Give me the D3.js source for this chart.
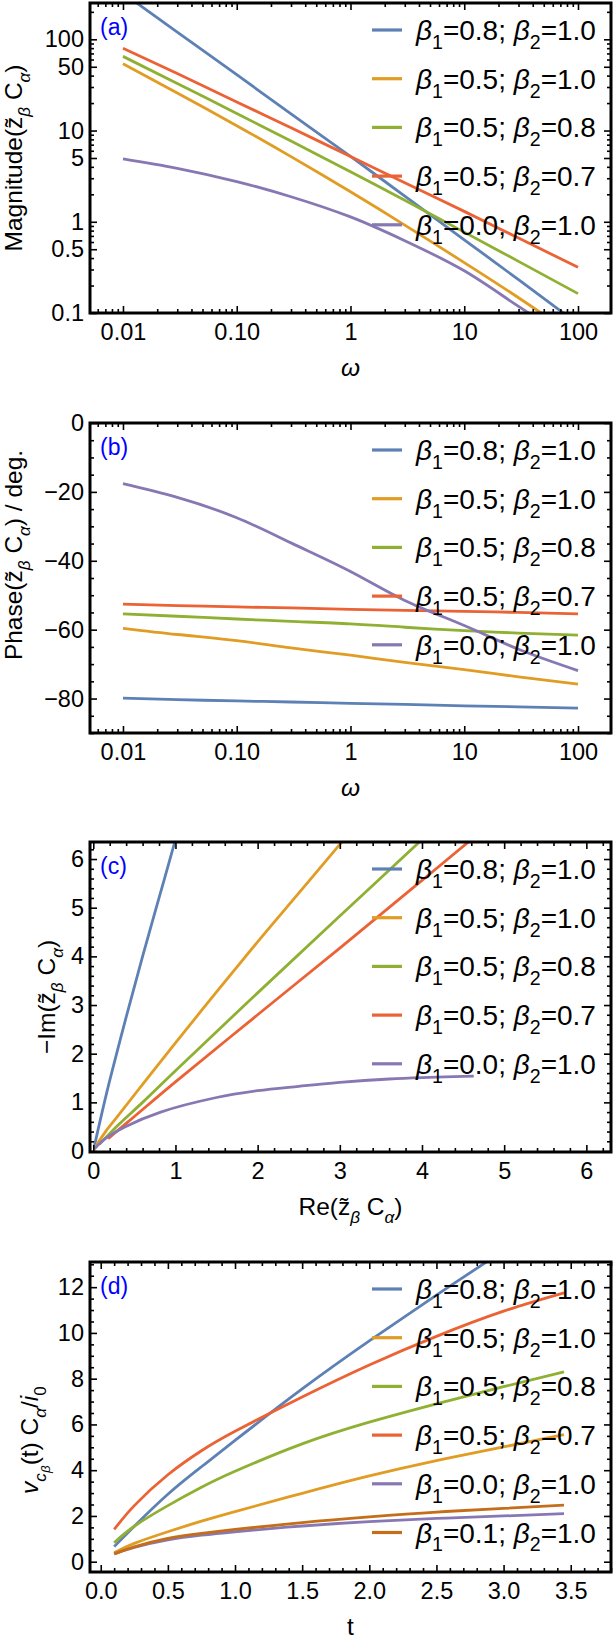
<!DOCTYPE html>
<html>
<head>
<meta charset="utf-8">
<script src="https://cdn.jsdelivr.net/npm/d3@7"></script>
<style>
body{margin:0;background:#fff;}
text{font-family:"Liberation Sans",Arial,sans-serif;fill:#000;}
.tick line{stroke:#000;stroke-width:1.6;}
.tick text{font-size:23.5px;}
</style>
</head>
<body>
<svg id="chart" width="615" height="1639"></svg>
<script>
// series labels and colours
var beta1 = ['0.8','0.5','0.5','0.5','0.0','0.1'];
var beta2 = ['1.0','1.0','0.8','0.7','1.0','1.0'];
var colors = ['#5e81b5','#e19c24','#8fb032','#eb6235','#8778b3','#c56e1a'];

// (a) magnitude, (b) phase  vs omega
var omega = [0.01, 0.03, 0.1, 0.3, 1, 3, 10, 30, 100];
var magA = [
  [321, 120, 41, 15.2, 5.2, 1.91, 0.635, 0.232, 0.076],
  [54, 25.8, 11.3, 5.18, 2.13, 0.92, 0.357, 0.147, 0.053],
  [65, 32.8, 15.4, 7.66, 3.53, 1.72, 0.77, 0.368, 0.163],
  [80, 42.1, 20.6, 10.7, 5.2, 2.68, 1.30, 0.663, 0.317],
  [4.9, 3.86, 2.76, 1.88, 1.13, 0.62, 0.29, 0.118, 0.046]
];
var phaseB = [
  [-79.9, -80.3, -80.7, -81.0, -81.4, -81.7, -82.1, -82.4, -82.8],
  [-59.6, -61.4, -63.2, -65.3, -67.4, -69.5, -71.6, -73.7, -75.8],
  [-55.4, -56.1, -56.9, -57.6, -58.3, -59.3, -60.3, -61.0, -61.6],
  [-52.6, -53.0, -53.4, -53.7, -54.1, -54.4, -54.7, -55.0, -55.4],
  [-17.6, -21.6, -27.5, -34.8, -43.1, -51.5, -58.8, -65.7, -71.9]
];

// (c) Nyquist: Re and -Im
var reC = [
  [0.01, 0.08, 0.2, 0.4, 0.6, 0.8, 1.0, 1.1],
  [0.01, 0.05, 0.15, 0.3, 0.6, 1.0, 1.5, 2.0, 2.5, 3.0, 3.2],
  [0.075, 0.3, 0.6, 1.0, 2.0, 3.0, 4.0, 4.3],
  [0.18, 0.5, 1.0, 2.0, 3.0, 4.0, 4.6, 4.8],
  [0.014, 0.05, 0.15, 0.39, 0.82, 1.5, 2.0, 2.5, 3.0, 3.6, 4.0, 4.63]
];
var imC = [
  [0.075, 0.6, 1.45, 2.75, 4.0, 5.2, 6.4, 7.0],
  [0.035, 0.15, 0.4, 0.72, 1.37, 2.22, 3.27, 4.3, 5.3, 6.3, 6.7],
  [0.139, 0.53, 1.0, 1.65, 3.25, 4.83, 6.4, 6.88],
  [0.255, 0.71, 1.42, 2.8, 4.17, 5.56, 6.4, 6.67],
  [0.044, 0.11, 0.26, 0.5, 0.8, 1.1, 1.24, 1.33, 1.41, 1.48, 1.51, 1.54]
];

// (d) time response
var tD = [0.1, 0.25, 0.5, 0.75, 1.0, 1.5, 2.0, 2.5, 3.0, 3.45];
var vD = [
  [0.66, 1.55, 2.95, 4.15, 5.3, 7.55, 9.65, 11.65, 13.6, 15.3],
  [0.39, 0.8, 1.31, 1.77, 2.19, 2.99, 3.75, 4.42, 5.02, 5.55],
  [0.83, 1.55, 2.45, 3.25, 3.95, 5.15, 6.1, 6.9, 7.65, 8.3],
  [1.41, 2.45, 3.8, 4.85, 5.7, 7.2, 8.6, 9.85, 10.95, 11.75],
  [0.34, 0.62, 0.95, 1.16, 1.31, 1.56, 1.75, 1.89, 2.0, 2.1],
  [0.34, 0.65, 1.02, 1.24, 1.41, 1.71, 1.96, 2.17, 2.33, 2.47]
];

var svg = d3.select('#chart');
var L = 90, R = 611, PH = 310;
var tops = [3, 423, 842, 1262];

function logMinor(lo, hi, skip){
  var out = [];
  for (var k = -4; k <= 3; k++){
    for (var m = 1; m <= 9; m++){
      var v = m * Math.pow(10, k);
      if (v >= lo && v <= hi && skip.indexOf(m) < 0) out.push(v);
    }
  }
  return out;
}
function stepTicks(lo, hi, step, major){
  var out = [];
  for (var v = Math.ceil(lo/step - 1e-9)*step; v <= hi + 1e-9; v += step){
    var r = Math.round(v*1000)/1000;
    var isMaj = major.some(function(M){ return Math.abs(M - r) < 1e-6; });
    if (!isMaj) out.push(r);
  }
  return out;
}

// rich text: parts with optional sub level and italics
function rich(sel, parts, size){
  var level = 0, shift = [0, 0.32, 0.5], scale = [1, 0.7, 0.55];
  parts.forEach(function(p){
    var lv = p.sub || 0;
    var dy = (shift[lv] - shift[level]) * size;
    sel.append('tspan')
      .attr('dy', dy)
      .style('font-size', (size*scale[lv]) + 'px')
      .style('font-style', p.it ? 'italic' : 'normal')
      .text(p.t);
    level = lv;
  });
}

function legendParts(i){
  return [{t:'β', it:1}, {t:'1', sub:1}, {t:'=' + beta1[i] + '; '},
          {t:'β', it:1}, {t:'2', sub:1}, {t:'=' + beta2[i]}];
}

function panel(cfg){
  var top = cfg.top, bottom = top + PH;
  var g = svg.append('g');
  var x = cfg.x.range([L, R]), y = cfg.y.range([bottom, top]);
  var id = 'clip' + cfg.tag;
  svg.append('clipPath').attr('id', id).append('rect')
    .attr('x', L).attr('y', top).attr('width', R - L).attr('height', PH);

  // curves
  var line = d3.line().curve(cfg.curve || d3.curveNatural)
    .x(function(d){ return x(d[0]); })
    .y(function(d){ return y(d[1]); });
  g.append('g').attr('clip-path', 'url(#' + id + ')')
    .selectAll('path').data(cfg.series).enter().append('path')
    .attr('d', line)
    .attr('fill', 'none')
    .attr('stroke', function(d, i){ return colors[i]; })
    .attr('stroke-width', 2.8);

  // axes: bottom/left labelled, top/right ticks only
  function ax(axisFn, scale, vals, size, fmt, tr){
    var a = axisFn(scale).tickValues(vals).tickSize(-size).tickPadding(10)
      .tickFormat(fmt || '');
    var s = g.append('g').attr('transform', tr).call(a);
    s.select('.domain').remove();
    return s;
  }
  ax(d3.axisBottom, x, cfg.xMaj, 7, cfg.xFmt, 'translate(0,' + bottom + ')');
  ax(d3.axisBottom, x, cfg.xMin, 4, null, 'translate(0,' + bottom + ')');
  ax(d3.axisTop, x, cfg.xMaj, 7, null, 'translate(0,' + top + ')');
  ax(d3.axisTop, x, cfg.xMin, 4, null, 'translate(0,' + top + ')');
  var yl = ax(d3.axisLeft, y, cfg.yMaj, 7, cfg.yFmt, 'translate(' + L + ',0)');
  yl.selectAll('text').attr('x', -6);
  ax(d3.axisLeft, y, cfg.yMin, 4, null, 'translate(' + L + ',0)');
  ax(d3.axisRight, y, cfg.yMaj, 7, null, 'translate(' + R + ',0)');
  ax(d3.axisRight, y, cfg.yMin, 4, null, 'translate(' + R + ',0)');

  // frame
  g.append('rect').attr('x', L).attr('y', top).attr('width', R - L).attr('height', PH)
    .attr('fill', 'none').attr('stroke', '#000').attr('stroke-width', 3);

  // tag
  g.append('text').attr('x', 100).attr('y', top + 32)
    .style('font-size', '23px').style('fill', '#0000ff').text('(' + cfg.tag + ')');

  // legend
  var lg = g.selectAll('.leg').data(cfg.series).enter().append('g')
    .attr('transform', function(d, i){ return 'translate(0,' + (top + 27 + i*48.7) + ')'; });
  lg.append('line').attr('x1', 372).attr('x2', 402)
    .attr('stroke', function(d, i){ return colors[i]; }).attr('stroke-width', 3.2);
  lg.each(function(d, i){
    var t = d3.select(this).append('text').attr('x', 416).attr('y', 10).style('font-size', '28px');
    rich(t, legendParts(i), 28);
  });

  // titles
  var xt = g.append('text').attr('x', (L + R)/2).attr('y', bottom + 63)
    .attr('text-anchor', 'middle');
  rich(xt, cfg.xTitle, 24.5);
  var yt = g.append('text').attr('text-anchor', 'middle')
    .attr('transform', 'translate(' + cfg.ytx + ',' + cfg.yty + ') rotate(-90)');
  rich(yt, cfg.yTitle, 24.5);
}

var zb = [{t:'z\u0303'}, {t:'β', sub:1, it:1}, {t:' C'}, {t:'α', sub:1, it:1}];
var wTitle = [{t:'ω', it:1}];

var xLog = function(){ return d3.scaleLog().domain([0.00513, 195]); };
var xLogMaj = [0.01, 0.1, 1, 10, 100];
var xLogFmt = function(d){ return {0.01:'0.01', 0.1:'0.10', 1:'1', 10:'10', 100:'100'}[d]; };
var minus = function(d){ return d < 0 ? '\u2212' + (-d) : '' + d; };

panel({
  tag:'a', top:tops[0],
  x:xLog(), y:d3.scaleLog().domain([0.1, 250]),
  series: magA.map(function(s){ return s.map(function(v, j){ return [omega[j], v]; }); }),
  xMaj:xLogMaj, xMin:logMinor(0.00513, 195, [1]), xFmt:xLogFmt,
  yMaj:[0.1, 0.5, 1, 5, 10, 50, 100], yMin:logMinor(0.1, 250, [1, 5]),
  yFmt:function(d){ return d3.format('')(d); },
  xTitle:wTitle,
  yTitle:[{t:'Magnitude('}].concat(zb, [{t:')'}]), ytx:22, yty:158
});

panel({
  tag:'b', top:tops[1],
  x:xLog(), y:d3.scaleLinear().domain([-90, 0]),
  series: phaseB.map(function(s){ return s.map(function(v, j){ return [omega[j], v]; }); }),
  xMaj:xLogMaj, xMin:logMinor(0.00513, 195, [1]), xFmt:xLogFmt,
  yMaj:[0, -20, -40, -60, -80], yMin:stepTicks(-90, 0, 5, [0, -20, -40, -60, -80]),
  yFmt:minus,
  xTitle:wTitle,
  yTitle:[{t:'Phase('}].concat(zb, [{t:') / deg.'}]), ytx:22, yty:555
});

panel({
  tag:'c', top:tops[2], curve:d3.curveCatmullRom,
  x:d3.scaleLinear().domain([-0.04, 6.3]), y:d3.scaleLinear().domain([-0.02, 6.35]),
  series: reC.map(function(s, i){ return s.map(function(v, j){ return [v, imC[i][j]]; }); }),
  xMaj:d3.range(0, 7), xMin:stepTicks(-0.04, 6.3, 0.2, d3.range(0, 7)), xFmt:d3.format('d'),
  yMaj:d3.range(0, 7), yMin:stepTicks(-0.02, 6.35, 0.2, d3.range(0, 7)), yFmt:d3.format('d'),
  xTitle:[{t:'Re('}].concat(zb, [{t:')'}]),
  yTitle:[{t:'\u2212Im('}].concat(zb, [{t:')'}]), ytx:55, yty:997
});

panel({
  tag:'d', top:tops[3],
  x:d3.scaleLinear().domain([-0.08, 3.8]), y:d3.scaleLinear().domain([-0.45, 13.1]),
  series: vD.map(function(s){ return s.map(function(v, j){ return [tD[j], v]; }); }),
  xMaj:d3.range(0, 3.51, 0.5), xMin:stepTicks(-0.08, 3.8, 0.1, d3.range(0, 3.51, 0.5)), xFmt:d3.format('.1f'),
  yMaj:d3.range(0, 13, 2), yMin:stepTicks(-0.45, 13.1, 0.5, d3.range(0, 13, 2)), yFmt:d3.format('d'),
  xTitle:[{t:'t'}],
  yTitle:[{t:'v', it:1}, {t:'c', sub:1, it:1}, {t:'β', sub:2, it:1}, {t:'(t) C'}, {t:'α', sub:1, it:1},
          {t:'/'}, {t:'i', it:1}, {t:'0', sub:1}], ytx:38, yty:1440
});
</script>
</body>
</html>
